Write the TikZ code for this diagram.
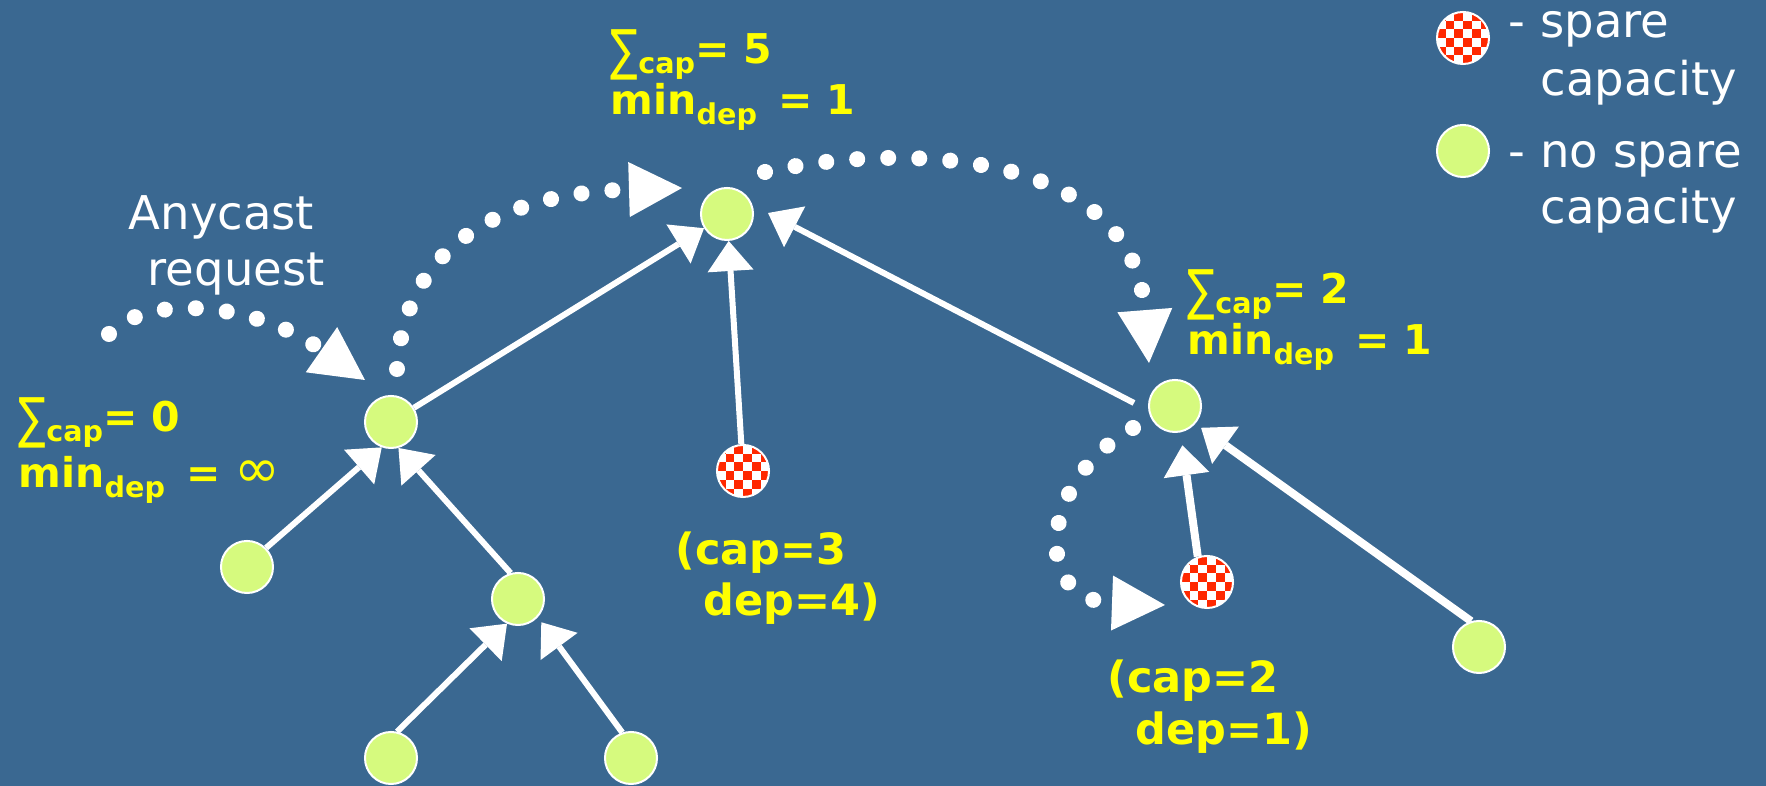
\documentclass[tikz,border=0pt]{standalone}
\usepackage{fontspec}
\usepackage{graphicx}
\setmainfont{DejaVu Sans}
\usetikzlibrary{arrows.meta,calc}
\definecolor{bgblue}{HTML}{3A6891}
\definecolor{nodegreen}{HTML}{D6FA7E}
\definecolor{chkred}{HTML}{FF2800}
\definecolor{lblyellow}{HTML}{FFFF00}
\newcommand\subtxt[1]{\raisebox{-1.0mm}{\fontsize{2.86mm}{3.4mm}\selectfont #1}}
\newcommand\sumsym{\raisebox{-0.55mm}{\scalebox{1}[1.35]{\mdseries ∑}}}
\newcommand\infsym{{\mdseries\fontsize{5.5mm}{5.5mm}\selectfont ∞}}
\tikzset{
  leaf/.style={circle, fill=nodegreen, draw=white, line width=0.2mm, minimum size=5.2mm, inner sep=0pt},
  spare/.style={circle, fill=white, draw=white, line width=0.2mm, minimum size=5.2mm, inner sep=0pt,
    path picture={
      \foreach \i in {0,...,5}{
        \foreach \j in {0,...,5}{
          \pgfmathtruncatemacro\chk{mod(\i+\j,2)}
          \ifnum\chk=0
            \fill[chkred] ($(path picture bounding box.north west)+(\i*0.87mm,-\j*0.87mm)$) rectangle ++(0.87mm,-0.87mm);
          \fi
        }
      }
    }},
  tree/.style={draw=white, line width=0.6mm, -{Triangle[length=3mm,width=4.6mm,line width=0pt]}},
  treethick/.style={tree, line width=0.8mm},
  flow/.style={draw=white, line width=1.6mm, line cap=round, dash pattern=on 0.01pt off 3.1mm,
    -{Triangle[length=5.3mm,width=5.5mm,line width=0pt]}},
  ylabel/.style={anchor=base west, inner sep=0pt, text=lblyellow, font=\bfseries\fontsize{4.1mm}{5mm}\selectfont},
  yval/.style={ylabel, font=\bfseries\fontsize{4.3mm}{5mm}\selectfont},
  wlabel/.style={anchor=base west, inner sep=0pt, text=white, font=\fontsize{4.65mm}{5.6mm}\selectfont},
}
\begin{document}
\begin{tikzpicture}[x=0.01cm, y=-0.01cm]
\useasboundingbox (0,0) rectangle (1766,786);
\fill[bgblue] (0,0) rectangle (1766,786);

% tree nodes
\node[leaf] (R) at (727,214) {};
\node[leaf] (A) at (391,422) {};
\node[leaf] (B) at (1175,406) {};
\node[leaf] (L1) at (247,567) {};
\node[leaf] (M) at (518,599) {};
\node[leaf] (LL) at (391,758) {};
\node[leaf] (LR) at (631,758) {};
\node[leaf] (RL) at (1479,647) {};
\node[spare] (C1) at (743,471) {};
\node[spare] (C2) at (1207,582) {};

% legend
\node[spare] (legchk) at (1463,38) {};
\node[leaf] (leggrn) at (1463,151) {};
\node[wlabel] (lega) at (1508,38) {- spare};
\node[wlabel] (legb) at (1540,96) {capacity};
\node[wlabel] (legc) at (1508,168) {- no spare};
\node[wlabel] (legd) at (1540,224) {capacity};

% tree edges
\draw[tree] (A) -- (R);
\draw[tree] (C1) -- (R);
\draw[tree] ($(B.west)+(-14,-3)$) -- ($(R.east)+(14,-1)$);
\draw[tree] (L1.45) -- (A.250);
\draw[tree] (M.106) -- (A.286);
\draw[tree] (LL.77) -- (M.246);
\draw[tree, shorten >=0.6mm] (LR.109) -- (M.317);
\draw[treethick, shorten >=1.3mm] (C2.110) -- (B.282);
\draw[treethick, shorten >=0.7mm] (RL.107) -- (B.319);

% dotted flows
\coordinate (req) at (109,334);
\draw[flow] (req) .. controls (145,295) and (250,300) .. ($(A)+(-26,-42)$);
\draw[flow] ($(A)+(6,-53)$) .. controls (405,240) and (510,193) .. ($(R)+(-45,-26)$);
\draw[flow] ($(R)+(38,-42)$) .. controls (900,142) and (1132,148) .. ($(B)+(-26,-43)$);
\draw[flow] ($(B)+(-42,22)$) .. controls (1040,480) and (1030,600) .. ($(C2)+(-42,23)$);

% labels
\node[wlabel] (any1) at (128,230) {Anycast};
\node[wlabel] (any2) at (147,286) {request};

\node[ylabel] (s5a) at (610,64) {\sumsym\subtxt{cap}= 5};
\node[ylabel] (s5b) at (610,115) {min\subtxt{dep}\hspace{2.1mm}= 1};
\node[ylabel] (s0a) at (18,432) {\sumsym\subtxt{cap}= 0};
\node[ylabel] (s0b) at (18,488) {min\subtxt{dep}\hspace{2.1mm}= \infsym};
\node[ylabel] (s2a) at (1187,304) {\sumsym\subtxt{cap}= 2};
\node[ylabel] (s2b) at (1187,355) {min\subtxt{dep}\hspace{2.1mm}= 1};

\node[yval] (c3a) at (675,565) {(cap=3};
\node[yval] (c3b) at (703,616) {dep=4)};
\node[yval] (c2a) at (1107,693) {(cap=2};
\node[yval] (c2b) at (1135,745) {dep=1)};
\end{tikzpicture}
\end{document}
